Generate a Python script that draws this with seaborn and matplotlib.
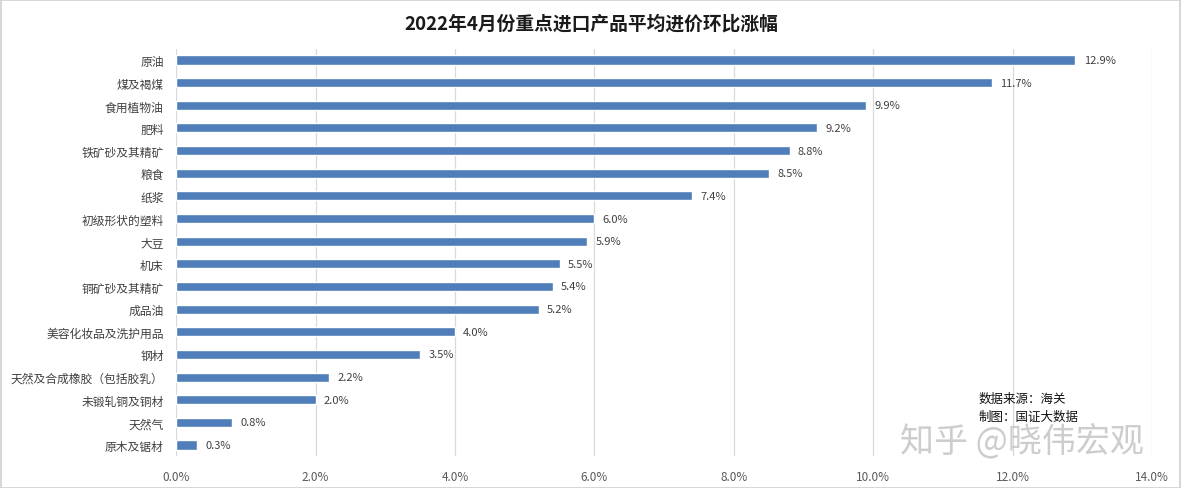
import matplotlib
matplotlib.use("Agg")
import matplotlib.pyplot as plt
import seaborn as sns
import pandas as pd
from matplotlib.patches import Rectangle

categories = ["原油", "煤及褐煤", "食用植物油", "肥料", "铁矿砂及其精矿", "粮食", "纸浆",
              "初级形状的塑料", "大豆", "机床", "铜矿砂及其精矿", "成品油",
              "美容化妆品及洗护用品", "钢材", "天然及合成橡胶（包括胶乳）",
              "未锻轧铜及铜材", "天然气", "原木及锯材"]
values = [12.9, 11.7, 9.9, 9.2, 8.8, 8.5, 7.4, 6.0, 5.9, 5.5, 5.4, 5.2, 4.0, 3.5, 2.2, 2.0, 0.8, 0.3]
xticks = [0, 2, 4, 6, 8, 10, 12, 14]
title = "2022年4月份重点进口产品平均进价环比涨幅"
source_lines = ["数据来源：海关", "制图：国证大数据"]
watermark = "知乎 @晓伟宏观"

sns.set_theme(style="white")
plt.rcParams['font.family'] = ['Noto Sans CJK SC', 'DejaVu Sans']

df = pd.DataFrame({"cat": categories, "val": values})

fig = plt.figure(figsize=(11.82, 4.89), dpi=100)
ax = fig.add_axes([0.149, 0.0648, 0.8257, 0.8336])

sns.barplot(data=df, y="cat", x="val", orient="h", color="#4F7EBA",
            width=0.4, ax=ax, saturation=1)

ax.set_xlim(0, 14)
ax.set_xticks(xticks)
ax.set_xticklabels([f"{t:.1f}%" for t in xticks], color="#595959", fontsize=8.5)
ax.tick_params(axis='x', length=0, pad=10)
ax.tick_params(axis='y', length=0, pad=9, labelsize=8.5, labelcolor="#404040")
ax.set_xlabel("")
ax.set_ylabel("")
ax.grid(axis='x', color="#D9D9D9", linewidth=0.9)
ax.set_axisbelow(True)
for s in ax.spines.values():
    s.set_visible(False)

for container in ax.containers:
    ax.bar_label(container, labels=[f"{v:.1f}%" for v in values], padding=6,
                 fontsize=8, color="#404040")

fig.text(0.5, 0.95, title, ha="center", va="center", fontsize=13.5, fontweight="bold",
         color="#1a1a1a")

fig.text(0.8275, 0.183, source_lines[0], ha="left", va="center", fontsize=9, color="#111111")
fig.text(0.8275, 0.146, source_lines[1], ha="left", va="center", fontsize=9, color="#111111")

fig.text(0.761, 0.095, watermark, ha="left", va="center", fontsize=24.5, color="#C8C8C8",
         alpha=0.9)

fig.patches.append(Rectangle((0.001, 0.001), 0.997, 0.997, transform=fig.transFigure,
                             fill=False, edgecolor="#D0D0D0", linewidth=1.2))

fig.savefig("out.png", dpi=100)
